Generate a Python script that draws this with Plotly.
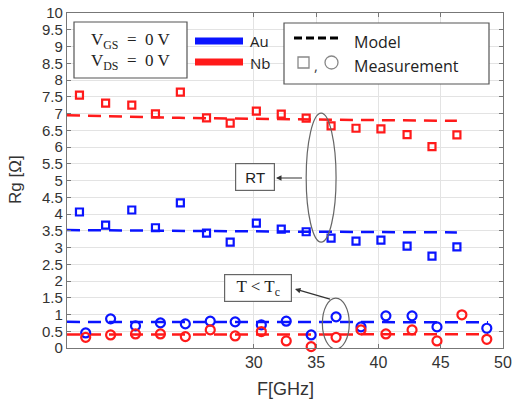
import plotly.graph_objects as go

# ---- data ----
f_sq = [16.0, 18.1, 20.2, 22.1, 24.1, 26.2, 28.1, 30.2, 32.2, 34.2, 36.2, 38.2, 40.2, 42.3, 44.3, 46.3]
nb_rt = [7.55, 7.31, 7.25, 6.99, 7.64, 6.87, 6.71, 7.07, 6.98, 6.86, 6.63, 6.56, 6.54, 6.37, 6.01, 6.36]
au_rt = [4.06, 3.67, 4.12, 3.59, 4.33, 3.43, 3.16, 3.73, 3.55, 3.47, 3.28, 3.19, 3.22, 3.04, 2.74, 3.02]

f_ci = [16.5, 18.5, 20.5, 22.5, 24.5, 26.5, 28.5, 30.6, 32.6, 34.6, 36.6, 38.6, 40.6, 42.7, 44.7, 46.7, 48.7]
au_lt = [0.45, 0.87, 0.66, 0.75, 0.72, 0.80, 0.78, 0.69, 0.80, 0.39, 0.93, 0.63, 0.96, 0.96, 0.63, None, 0.59]
nb_lt = [0.32, 0.39, 0.42, 0.42, 0.34, 0.54, 0.36, 0.49, 0.21, 0.04, 0.32, 0.54, 0.42, 0.54, 0.21, 0.99, 0.26]

f_model_rt = [15, 24, 35, 46.3]
nb_model_rt = [6.95, 6.87, 6.82, 6.78]
au_model_rt = [3.52, 3.49, 3.47, 3.45]
f_model_lt = [15, 30, 48.8]
nb_model_lt = [0.40, 0.41, 0.41]
au_model_lt = [0.78, 0.77, 0.77]

x_ticks = [30, 35, 40, 45, 50]
y_ticks = [i * 0.5 for i in range(21)]
y_ticklabels = ["0", "0.5", "1", "1.5", "2", "2.5", "3", "3.5", "4", "4.5", "5",
                "5.5", "6", "6.5", "7", "7.5", "8", "8.5", "9", "9.5", "10"]

BLUE = "#0a14ff"
RED = "#ff1a1a"
W, H = 515, 402
ML, MR, MT, MB = 67, 12, 13, 54
PW, PH = W - ML - MR, H - MT - MB


def px(x):
    return (x - ML) / PW


def py(y):
    return (H - MB - y) / PH


fig = go.Figure()
dash = "13px,8px"
fig.add_trace(go.Scatter(x=f_model_rt, y=nb_model_rt, mode="lines",
                         line=dict(color=RED, width=2.5, dash=dash), showlegend=False))
fig.add_trace(go.Scatter(x=f_model_rt, y=au_model_rt, mode="lines",
                         line=dict(color=BLUE, width=2.5, dash=dash), showlegend=False))
fig.add_trace(go.Scatter(x=f_model_lt, y=au_model_lt, mode="lines",
                         line=dict(color=BLUE, width=2.5, dash=dash), showlegend=False))
fig.add_trace(go.Scatter(x=f_model_lt, y=nb_model_lt, mode="lines",
                         line=dict(color=RED, width=2.5, dash=dash), showlegend=False))

fig.add_trace(go.Scatter(x=f_sq, y=nb_rt, mode="markers", cliponaxis=False,
                         marker=dict(symbol="square-open", size=7, color=RED, line=dict(width=2.2)),
                         showlegend=False))
fig.add_trace(go.Scatter(x=f_sq, y=au_rt, mode="markers", cliponaxis=False,
                         marker=dict(symbol="square-open", size=7, color=BLUE, line=dict(width=2.2)),
                         showlegend=False))
fig.add_trace(go.Scatter(x=f_ci, y=au_lt, mode="markers", cliponaxis=False,
                         marker=dict(symbol="circle-open", size=9, color=BLUE, line=dict(width=2.2)),
                         showlegend=False))
fig.add_trace(go.Scatter(x=f_ci, y=nb_lt, mode="markers", cliponaxis=False,
                         marker=dict(symbol="circle-open", size=9, color=RED, line=dict(width=2.2)),
                         showlegend=False))

shapes = []
annotations = []
GRAY = "#555555"
SERIF = "Liberation Serif"
SANS = "Liberation Sans"
LEG = "Open Sans"


def note(x, y, text, font, xanchor="center", **kw):
    d = dict(xref="paper", yref="paper", x=px(x), y=py(y), showarrow=False, text=text,
             font=font, xanchor=xanchor, yanchor="middle")
    d.update(kw)
    annotations.append(d)


# legend box 1
shapes.append(dict(type="rect", xref="paper", yref="paper", x0=px(74), x1=px(187), y0=py(78), y1=py(22),
                   line=dict(color=GRAY, width=1.2), fillcolor="white", layer="above"))
note(131, 41, "V<sub>GS</sub>  =  0 V", dict(family=SERIF, size=17, color="#222"))
note(131, 62, "V<sub>DS</sub>  =  0 V", dict(family=SERIF, size=17, color="#222"))
shapes.append(dict(type="line", xref="paper", yref="paper", x0=px(195), x1=px(243), y0=py(41), y1=py(41),
                   line=dict(color=BLUE, width=7), layer="above"))
shapes.append(dict(type="line", xref="paper", yref="paper", x0=px(195), x1=px(243), y0=py(62), y1=py(62),
                   line=dict(color=RED, width=7), layer="above"))
note(248, 41, "Au", dict(family=LEG, size=15, color="#222"), xanchor="left")
note(248, 63, "Nb", dict(family=LEG, size=15, color="#222"), xanchor="left")

# legend box 2
shapes.append(dict(type="rect", xref="paper", yref="paper", x0=px(284), x1=px(489), y0=py(84), y1=py(23),
                   line=dict(color=GRAY, width=1.2), fillcolor="white", layer="above"))
shapes.append(dict(type="line", xref="paper", yref="paper", x0=px(294), x1=px(341), y0=py(38), y1=py(38),
                   line=dict(color="black", width=3, dash="8px,4px"), layer="above"))
note(352, 42, "Model", dict(family=LEG, size=16, color="#222"), xanchor="left")
shapes.append(dict(type="rect", xref="paper", yref="paper", x0=px(298), x1=px(309), y0=py(68), y1=py(57),
                   line=dict(color="#888", width=1.3), layer="above"))
note(316, 65, ",", dict(family=LEG, size=15, color="#444"))
shapes.append(dict(type="circle", xref="paper", yref="paper", x0=px(325), x1=px(338), y0=py(69), y1=py(56),
                   line=dict(color="#888", width=1.3), layer="above"))
note(352, 66, "Measurement", dict(family=LEG, size=16, color="#222"), xanchor="left")

# RT annotation
shapes.append(dict(type="circle", xref="x", yref="y", x0=34.2, x1=36.6, y0=3.16, y1=7.01,
                   line=dict(color="#666", width=1.2)))
note(254.5, 177, "RT", dict(family=SANS, size=15, color="#222"),
     bordercolor="#666", borderwidth=1.2, bgcolor="white", width=36, height=24)
annotations.append(dict(xref="paper", yref="paper", x=px(276), y=py(178), showarrow=True, text=" ",
                        ax=29, ay=0, axref="pixel", ayref="pixel",
                        arrowhead=2, arrowsize=1, arrowwidth=1.1, arrowcolor="#333"))

# T < Tc annotation
shapes.append(dict(type="circle", xref="x", yref="y", x0=35.5, x1=37.66, y0=-0.03, y1=1.49,
                   line=dict(color="#666", width=1.2)))
note(258, 288, "T < T<sub>c</sub>", dict(family=SERIF, size=17, color="#222"),
     bordercolor="#666", borderwidth=1.2, bgcolor="white", width=64, height=24)
annotations.append(dict(xref="paper", yref="paper", x=px(295), y=py(289), showarrow=True, text=" ",
                        ax=38, ay=11, axref="pixel", ayref="pixel",
                        arrowhead=2, arrowsize=1, arrowwidth=1.1, arrowcolor="#333"))

# axis titles
note(285, 389, "F[GHz]", dict(family=SANS, size=18, color="#333"))
note(15, 180, "Rg [Ω]", dict(family=SANS, size=17, color="#333"), textangle=-90)

fig.update_layout(
    width=W, height=H,
    margin=dict(l=ML, r=MR, t=MT, b=MB, autoexpand=False),
    paper_bgcolor="white", plot_bgcolor="white",
    shapes=shapes, annotations=annotations,
    showlegend=False,
    font=dict(family=SANS, color="#333"),
)
fig.update_xaxes(range=[15, 50], tickvals=x_ticks, ticktext=[str(v) for v in x_ticks],
                 automargin=False,
                 showgrid=True, gridcolor="#e3e3e3", gridwidth=1,
                 showline=True, linecolor="#777", linewidth=1.2, mirror="ticks",
                 ticks="inside", ticklen=4, tickcolor="#777",
                 tickfont=dict(family=SANS, size=16, color="#333"),
                 zeroline=False)
fig.update_yaxes(range=[0, 10], tickvals=y_ticks, ticktext=y_ticklabels,
                 automargin=False,
                 showgrid=True, gridcolor="#e3e3e3", gridwidth=1,
                 showline=True, linecolor="#777", linewidth=1.2, mirror="ticks",
                 ticks="inside", ticklen=4, tickcolor="#777",
                 tickfont=dict(family=SANS, size=15, color="#333"),
                 zeroline=False)

fig.write_html("out.html")
